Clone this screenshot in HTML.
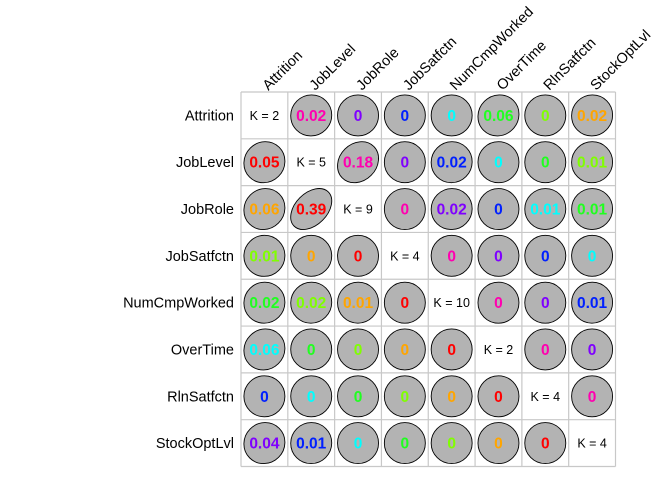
<!DOCTYPE html>
<html><head><meta charset="utf-8"><style>
html,body{margin:0;padding:0;background:#fff;}
svg{display:block;font-family:"Liberation Sans",Arial,sans-serif;}
</style></head><body>
<svg id="chart" width="672" height="480"></svg>
<script>
const variables = ["Attrition","JobLevel","JobRole","JobSatfctn","NumCmpWorked","OverTime","RlnSatfctn","StockOptLvl"];
const levels = [2,5,9,4,10,2,4,4];
const row0 = [null,0.02,0,0,0,0.06,0,0.02];
const row1 = [0.05,null,0.18,0,0.02,0,0,0.01];
const row2 = [0.06,0.39,null,0,0.02,0,0.01,0.01];
const row3 = [0.01,0,0,null,0,0,0,0];
const row4 = [0.02,0.02,0.01,0,null,0,0,0.01];
const row5 = [0.06,0,0,0,0,null,0,0];
const row6 = [0,0,0,0,0,0,null,0];
const row7 = [0.04,0.01,0,0,0,0,0,null];
const values = [row0,row1,row2,row3,row4,row5,row6,row7];

const svg = document.getElementById('chart');
const NS = 'http://www.w3.org/2000/svg';
const gLeft = 241, gTop = 92, gRight = 615.5, gBottom = 466.5;
const n = variables.length;
const cw = (gRight-gLeft)/n, ch = (gBottom-gTop)/n;
const xPos = j => gLeft + (j+0.5)*cw;
const yPos = i => gTop + (i+0.5)*ch;
const upperCols = {1:"#FF00B0",2:"#7F00FF",3:"#0020FF",4:"#00FFFF",5:"#20FF20",6:"#80FF00",7:"#FFA500"};
const lowerCols = {1:"#FF0000",2:"#FFA500",3:"#80FF00",4:"#20FF20",5:"#00FFFF",6:"#0020FF",7:"#7F00FF"};
function mk(tag, attrs){const e=document.createElementNS(NS,tag);for(const k in attrs)e.setAttribute(k,attrs[k]);svg.appendChild(e);return e;}

for(let k=0;k<=n;k++){
  const gl=mk('line',{x1:gLeft,x2:gRight,y1:gTop+k*ch,y2:gTop+k*ch,stroke:'#c8c8c8','stroke-width':1.2});
  
  
  const gv=mk('line',{x1:gLeft+k*cw,x2:gLeft+k*cw,y1:gTop,y2:gBottom,stroke:'#c8c8c8','stroke-width':1.2});
  
  
}
variables.forEach((v,i)=>{
  const t=mk('text',{x:234,y:yPos(i)+5,'text-anchor':'end','font-size':14.5,fill:'#000'});
  t.textContent=v;
  
  
  const cx=xPos(i)+4, cy=91;
  const c=mk('text',{x:cx,y:cy,'font-size':14.5,fill:'#000',transform:`rotate(-45 ${cx} ${cy})`});
  c.textContent=v;
  
  
});
const R=20.5;
values.forEach((row,i)=>{
  row.forEach((val,j)=>{
    const cx=xPos(j), cy=yPos(i);
    if(i===j){
      const t=mk('text',{x:cx,y:cy+4.5,'text-anchor':'middle','font-size':12.5,fill:'#000'});
      t.textContent='K = '+levels[i];
      
      
      return;
    }
    const a=R*Math.sqrt(1+val), b=R*Math.sqrt(1-val);
    const e=mk('ellipse',{cx:cx,cy:cy,rx:a,ry:b,fill:'#b3b3b3',stroke:'#000','stroke-width':0.9,transform:`rotate(-45 ${cx} ${cy})`});
    
    
    const col = j>i ? upperCols[j-i] : lowerCols[i-j];
    const t=mk('text',{x:cx,y:cy+5.5,'text-anchor':'middle','font-size':15.5,'font-weight':'bold',fill:col});
    t.textContent = val===0 ? '0' : val.toFixed(2);
    
    
  });
});
</script>
</body></html>
